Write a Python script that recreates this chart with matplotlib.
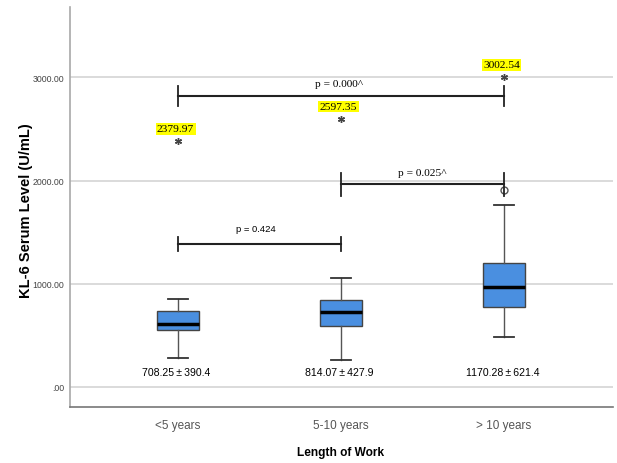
import matplotlib
matplotlib.use("Agg")
import matplotlib.pyplot as plt

# data
groups = ["<5 years", "5-10 years", "> 10 years"]
q1 = [552, 594, 771]
med = [607, 723, 971]
q3 = [739, 842, 1197]
whislo = [278, 261, 484]
whishi = [849, 1058, 1765]
extremes = [2379.97, 2597.35, 3002.54]   # starred outliers
mild = [[], [], [1907]]                  # circle outliers
means = [708.25, 814.07, 1170.28]
sds = [390.4, 427.9, 621.4]

# comparisons: (left, right, bracket height, label)
pairs = [(0, 2, 2820, "p = 0.000^"),
         (1, 2, 1962, "p = 0.025^"),
         (0, 1, 1384, "p = 0.424")]

sans = ["Liberation Sans", "DejaVu Sans"]
serif = ["Liberation Serif", "DejaVu Serif"]

fig = plt.figure(figsize=(6.17, 4.64), dpi=100)
ax = fig.add_axes([0.1135, 0.1207, 0.88, 0.8621])

stats = []
for i, g in enumerate(groups):
    stats.append(dict(label=g, q1=q1[i], med=med[i], q3=q3[i],
                      whislo=whislo[i], whishi=whishi[i], fliers=[]))

pos = list(range(len(groups)))
ax.bxp(stats, positions=pos, widths=0.253, patch_artist=True, showfliers=False,
       boxprops=dict(facecolor="#4a8fe0", edgecolor="#444444", linewidth=1),
       medianprops=dict(color="black", linewidth=2.5),
       whiskerprops=dict(color="#555555", linewidth=1),
       capprops=dict(color="#333333", linewidth=1.3),
       capwidths=0.125, zorder=3)

# outliers and labels
for i in pos:
    ax.plot([i], [extremes[i]], marker=(6, 2, 0), ms=5, mew=1, color="#444444",
            ls="none", zorder=4)
    if mild[i]:
        ax.plot([i] * len(mild[i]), mild[i], marker="o", ms=5, mfc="none",
                mec="#555555", ls="none", zorder=4)
    ax.text(i - 0.015, extremes[i] + 120, f"{extremes[i]:.2f}", ha="center", va="center",
            fontsize=8.2, family=serif, color="black", zorder=5,
            bbox=dict(facecolor="#ffff00", edgecolor="none", pad=1.0))
    ax.text(i - 0.01, 145, f"{means[i]:.2f}\u2009\u00b1\u2009{sds[i]}", ha="center",
            va="center", fontsize=7.6, family=sans, color="black")

# comparison brackets
tick_h = {2820: 100, 1962: 115, 1384: 70}
for a, b, h, lab in pairs:
    ax.plot([a, b], [h, h], color="#222222", lw=1.5, zorder=4)
    for xx in (a, b):
        ax.plot([xx, xx], [h - tick_h[h], h + tick_h[h]], color="#222222", lw=1.3, zorder=4)
    if lab.endswith("^"):
        tx = 0.99 if b - a == 2 else (a + b) / 2
        ax.text(tx, h + 120, lab, ha="center", va="center", fontsize=8.2,
                family=serif, color="black")
    else:
        ax.text(0.475, h + 150, lab, ha="center", va="center", fontsize=6.8,
                family=sans, color="black")

ax.set_xlim(-0.663, 2.669)
ax.set_ylim(-194, 3682)
ax.set_yticks([0, 1000, 2000, 3000])
ax.set_yticklabels([".00", "1000.00", "2000.00", "3000.00"])
ax.set_xticks(pos)
ax.set_xticklabels(groups)
for t in ax.get_yticklabels():
    t.set_family(sans)
    t.set_fontsize(6.3)
    t.set_color("#444444")
for t in ax.get_xticklabels():
    t.set_family(sans)
    t.set_fontsize(8.5)
    t.set_color("#555555")
ax.tick_params(axis="both", length=0)
ax.tick_params(axis="y", pad=4)
ax.tick_params(axis="x", pad=9)

ax.yaxis.grid(True, color="#d4d4d4", lw=1.2, zorder=0)
ax.set_axisbelow(True)
ax.spines["top"].set_visible(False)
ax.spines["right"].set_visible(False)
ax.spines["left"].set_color("#a8a8a8")
ax.spines["bottom"].set_color("#777777")
ax.spines["left"].set_linewidth(1.2)
ax.spines["bottom"].set_linewidth(1.2)

ax.set_ylabel("KL-6 Serum Level (U/mL)", fontsize=10.5, fontweight="bold", family=sans)
ax.yaxis.set_label_coords(-0.068, 0.4925)
ax.set_xlabel("Length of Work", fontsize=8.6, fontweight="bold", family=sans)
ax.xaxis.set_label_coords(0.499, -0.097)

fig.savefig("out.png", dpi=100)
